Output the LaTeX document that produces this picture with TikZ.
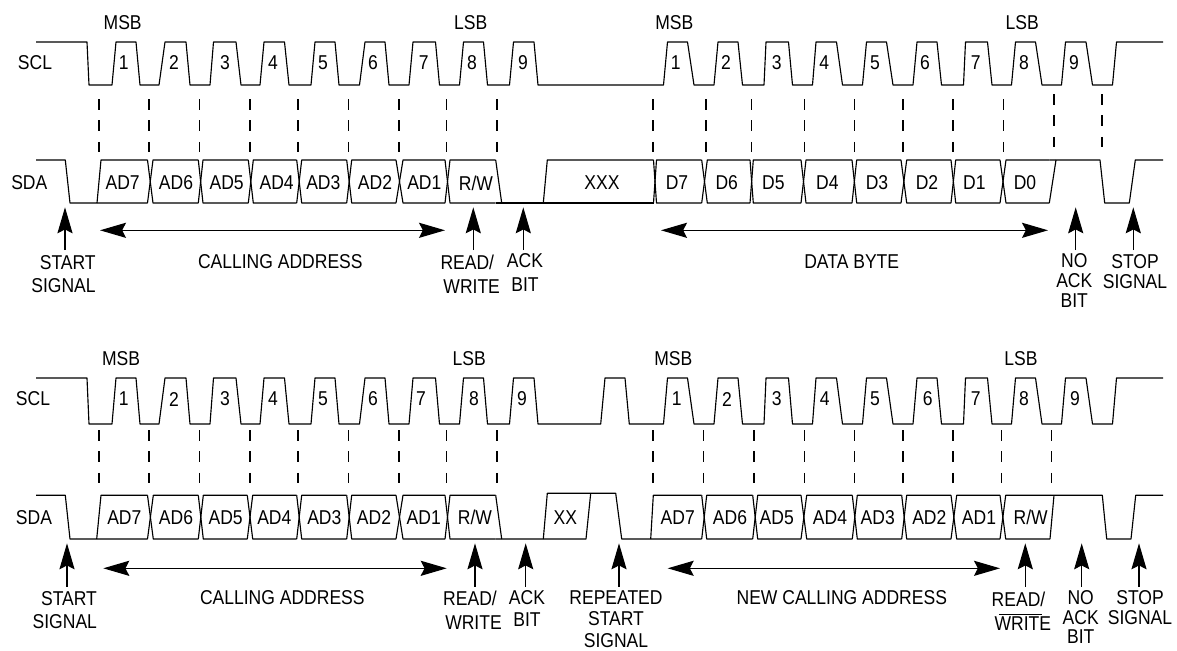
\documentclass[tikz,border=0pt]{standalone}
\usepackage{fontspec}
\setmainfont{Liberation Sans}[FakeStretch=0.875]
\usetikzlibrary{arrows.meta}

\tikzset{
  wave/.style={black,line width=0.65pt,line join=round},
  guide/.style={black,line width=0.6pt,dash pattern=on 6pt off 6.2pt},
  lbl/.style={font=\fontsize{11.4}{13.4}\selectfont,text=black,inner sep=0pt,align=center},
  lbltight/.style={lbl,font=\fontsize{11.4}{11.2}\selectfont},
  lblmid/.style={lbl,font=\fontsize{11.4}{12.3}\selectfont},
  sigtip/.tip={Stealth[length=14.8pt,width=8.6pt,inset=2.2pt]},
  sigarrow/.style={black,line width=0.65pt,-sigtip},
  sigspan/.style={black,line width=0.65pt,sigtip-sigtip},
}

\newcommand{\pulsesfirst}{112/116/136/140,159/165/186/190,210/213.5/236/241,260/264/284.5/289,311/315/335/339,359.5/365/385/389,409/413/435.5/439.5,459.5/463.5/483.5/487.5,509.5/513.5/534/538}
\newcommand{\pulseslast}{663.5/667.5/687.5/694,714/718/738/742.5,764/766/788.5/792.5,812.5/816/836.5/842.5,862.5/866.5/886.5/893,913/917/937/941.5,963.5/965.5/987.5/992,1011.5/1015.5/1035.5/1042,1061.5/1065.5/1086/1092.5}
\newcommand{\sclstart}[2]{(36,#1) -- (87,#1) -- (89,#2)}
\newcommand{\sclend}[2]{-- (1112.5,#2) -- (1116.5,#1) -- (1163,#1)}

\begin{document}
\begin{tikzpicture}[x=0.02cm,y=-0.02cm]
\useasboundingbox (0,0) rectangle (1177,650);

% upper frame
\draw[wave] \sclstart{42}{85} foreach \a/\b/\c/\d in \pulsesfirst {-- (\a,85) -- (\b,42) -- (\c,42) -- (\d,85)}
  foreach \a/\b/\c/\d in \pulseslast {-- (\a,85) -- (\b,42) -- (\c,42) -- (\d,85)} \sclend{42}{85};

\draw[wave] (36,160) -- (65.3,160) -- (70,203) -- (147.5,203);
\draw[wave] (97,203) -- (101,160) -- (147.5,160);
\foreach \a/\b/\c in {147.5/153/198.3,198.3/203/248.3,248.3/253.3/296.7,296.7/301.7/346.7,346.7/351.7/396,396/403/445,445/450/495.7,653.5/656.5/701.7,701.7/707.3/750,750/753.3/801,801/806/852,852/856.7/901,901/906.7/951,951/955.7/1000,1000/1006/1049.3}{
  \draw[wave] (\a,160) -- (\b,203) -- (\c,203);
  \draw[wave] (\a,203) -- (\b,160) -- (\c,160);
}
\draw[wave] (495.7,160) -- (501.7,203);
\draw[wave] (495.7,203) -- (653.5,203);
\draw[wave] (543.3,203) -- (547.3,160) -- (653.5,160);
\draw[wave] (1049.3,203) -- (1056,160);
\draw[wave] (1049.3,160) -- (1100,160) -- (1104.7,203) -- (1129.3,203) -- (1135.3,160) -- (1163,160);

\foreach \x in {99,149,199.7,250,298,348.3,399,446.7,497,653,706,751.7,804.3,854.7,903,953,1003.3}
  \draw[guide] (\x,99) -- (\x,153.3);
\foreach \x in {1054,1102}
  \draw[guide] (\x,94) -- (\x,148.3);

\node[lbl] (msbA) at (122.7,23) {MSB};
\node[lbl] (lsbA) at (470.7,23) {LSB};
\node[lbl] (msbB) at (674.3,23) {MSB};
\node[lbl] (lsbB) at (1022.3,23) {LSB};
\node[lbl] (sclA) at (35,63) {SCL};
\node[lbl] (sdaA) at (29.3,183) {SDA};
\foreach \x/\t [count=\i] in {123.7/1,174/2,225/3,273/4,323/5,373/6,423.7/7,472/8,523/9,675.7/1,726/2,776.7/3,824.3/4,875/5,925/6,975.7/7,1024/8,1074/9}
  \node[lbl] (clkA\i) at (\x,63) {\t};
\foreach \x/\t [count=\i] in {122.7/AD7,176/AD6,226.7/AD5,276.7/AD4,323.3/AD3,375/AD2,424.3/AD1,476/{R/W},602/XXX,677/D7,726.7/D6,773.3/D5,827.3/D4,877/D3,927/D2,974.3/D1,1025/D0}
  \node[lbl] (bitA\i) at (\x,183) {\t};

\foreach \n/\x in {startA/65,rwA/473.3,ackA/523.3,nackA/1075.7,stopA/1133.3}{
  \coordinate (tail\n) at (\x,250);
  \coordinate (tip\n) at (\x,207.3);
  \draw[sigarrow] (tail\n) -- (tip\n);
}
\coordinate (addrAl) at (100,230.3);
\coordinate (addrAr) at (445,230.3);
\coordinate (byteAl) at (661,230.3);
\coordinate (byteAr) at (1048,230.3);
\draw[sigspan] (addrAl) -- (addrAr);
\draw[sigspan] (byteAl) -- (byteAr);

\node[lbl,align=right,anchor=north east] (startA) at (96,255) {START\\SIGNAL};
\node[lbl] (callA) at (280.3,262) {CALLING ADDRESS};
\node[lbl] (rwlblA) at (467.3,274) {READ/\\\hspace{5pt}WRITE};
\node[lbl] (acklblA) at (525,272.5) {ACK\\BIT};
\node[lbl] (byteA) at (851.7,262) {DATA BYTE};
\node[lbltight] (nacklblA) at (1074.3,280.5) {NO\\ACK\\BIT};
\node[lbltight] (stoplblA) at (1135,271.5) {STOP\\SIGNAL};

% lower frame
\draw[wave] \sclstart{378}{424} foreach \a/\b/\c/\d in \pulsesfirst {-- (\a,424) -- (\b,378) -- (\c,378) -- (\d,424)}
  -- (600.7,424) -- (605,378) -- (625,378) -- (629.3,424)
  foreach \a/\b/\c/\d in \pulseslast {-- (\a,424) -- (\b,378) -- (\c,378) -- (\d,424)} \sclend{378}{424};

\draw[wave] (36,495.3) -- (65.3,495.3) -- (70,539) -- (147.5,539);
\draw[wave] (96.7,539) -- (101,495.3) -- (147.5,495.3);
\foreach \a/\b/\c in {147.5/153.3/198.3,198.3/203.3/247.3,247.3/252.7/296.7,296.7/301.7/346.7,346.7/351.7/396,396/403/445,445/450/495.7,701.7/706.7/752.7,752.7/757.7/801,801/806.7/852.3,852.3/857.3/901.7,901.7/906.7/951,951/956.7/1000,1000/1005.7/1050}{
  \draw[wave] (\a,495.3) -- (\b,539) -- (\c,539);
  \draw[wave] (\a,539) -- (\b,495.3) -- (\c,495.3);
}
\draw[wave] (495.7,495.3) -- (501.7,539);
\draw[wave] (495.7,539) -- (586,539) -- (590.7,493.3);
\draw[wave] (543.3,539) -- (547.3,493.3) -- (615.7,493.3) -- (621.7,539) -- (701.7,539);
\draw[wave] (650.7,539) -- (653.3,495.3) -- (701.7,495.3);
\draw[wave] (1050,539) -- (1054,495.3);
\draw[wave] (1050,495.3) -- (1102.3,495.3) -- (1106.7,539) -- (1131,539) -- (1135.7,495.3) -- (1163,495.3);

\foreach \x in {99,149,199.7,250,298,348.3,399,446.7,497,653,703.7,754,804.3,854.3,903,953,1001.3,1051.7}
  \draw[guide] (\x,430) -- (\x,484.3);

\node[lbl] (msbC) at (121,359) {MSB};
\node[lbl] (lsbC) at (469.3,359) {LSB};
\node[lbl] (msbD) at (673.3,359) {MSB};
\node[lbl] (lsbD) at (1021,359) {LSB};
\node[lbl] (sclB) at (33,399) {SCL};
\node[lbl] (sdaB) at (34,517.7) {SDA};
\foreach \x/\t [count=\i] in {123.7/1,174/2,225/3,273/4,323/5,373/6,421/7,474/8,522/9,676.7/1,727/2,776.7/3,824.7/4,875/5,927.7/6,975.7/7,1024/8,1075/9}
  \node[lbl] (clkB\i) at (\x,399) {\t};
\foreach \x/\t [count=\i] in {124.3/AD7,176/AD6,225.7/AD5,274.3/AD4,324.3/AD3,374/AD2,423.7/AD1,475/{R/W},565.3/XX,677.7/AD7,730/AD6,776.7/AD5,830/AD4,877.7/AD3,929.3/AD2,979/AD1,1030.7/{R/W}}
  \node[lbl] (bitB\i) at (\x,517.7) {\t};

\foreach \n/\x in {startB/67,rwB/475,ackB/525.7,rptB/619,rwnB/1025.3,nackB/1081.7,stopB/1139}{
  \coordinate (tail\n) at (\x,586.7);
  \coordinate (tip\n) at (\x,543.3);
  \draw[sigarrow] (tail\n) -- (tip\n);
}
\coordinate (addrBl) at (103.3,568.3);
\coordinate (addrBr) at (446.7,568.3);
\coordinate (newBl) at (667.7,568.3);
\coordinate (newBr) at (1000,568.3);
\draw[sigspan] (addrBl) -- (addrBr);
\draw[sigspan] (newBl) -- (newBr);

\node[lbl,align=right,anchor=north east] (startB) at (97.3,591) {START\\SIGNAL};
\node[lbl] (callB) at (282.3,597.7) {CALLING ADDRESS};
\node[lbl] (rwlblB) at (470,610) {READ/\\\hspace{4pt}WRITE};
\node[lblmid] (acklblB) at (527,608.5) {ACK\\BIT};
\node[lblmid] (rptlblB) at (616,619) {REPEATED\\START\\SIGNAL};
\node[lbl] (newB) at (841.8,597.7) {NEW CALLING ADDRESS};
\node[lbl] (rwnlblB) at (1018.5,611.5) {READ/\\\hspace{5pt}WRITE};
\draw[wave] (999.3,614.3) -- (1042.3,614.3);
\node[lbltight] (nacklblB) at (1080.7,617) {NO\\ACK\\BIT};
\node[lbltight] (stoplblB) at (1140,607.5) {STOP\\SIGNAL};

\end{tikzpicture}
\end{document}
